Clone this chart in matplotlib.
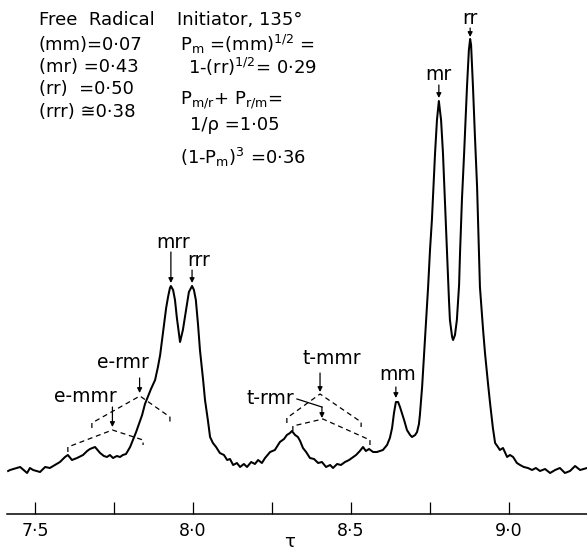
import matplotlib
matplotlib.use("Agg")
import matplotlib.pyplot as plt

# ---------------- data ----------------
tau = [7.415, 7.421, 7.453, 7.475, 7.484, 7.494, 7.516, 7.532, 7.547, 7.563,
       7.579, 7.595, 7.604, 7.617, 7.633, 7.652, 7.665, 7.674, 7.690, 7.706,
       7.718, 7.728, 7.737, 7.747, 7.759, 7.769, 7.778, 7.788, 7.801, 7.810,
       7.820, 7.829, 7.839, 7.848, 7.858, 7.867, 7.880, 7.889, 7.896, 7.905,
       7.915, 7.921, 7.927, 7.930, 7.937, 7.943, 7.949, 7.959, 7.968, 7.978,
       7.987, 7.997, 8.003, 8.009, 8.016, 8.022, 8.032, 8.038, 8.047, 8.054,
       8.063, 8.073, 8.085, 8.098, 8.108, 8.117, 8.127, 8.139, 8.149, 8.161,
       8.171, 8.184, 8.196, 8.206, 8.218, 8.228, 8.244, 8.259, 8.275, 8.288,
       8.297, 8.307, 8.313, 8.323, 8.332, 8.339, 8.348, 8.358, 8.370, 8.383,
       8.396, 8.408, 8.421, 8.434, 8.443, 8.456, 8.468, 8.481, 8.494, 8.503,
       8.516, 8.528, 8.538, 8.547, 8.557, 8.570, 8.582, 8.592, 8.601, 8.614,
       8.623, 8.630, 8.636, 8.642, 8.649, 8.655, 8.661, 8.668, 8.677, 8.687,
       8.693, 8.703, 8.709, 8.715, 8.718, 8.725, 8.731, 8.734, 8.744, 8.750,
       8.756, 8.766, 8.772, 8.778, 8.785, 8.791, 8.797, 8.804, 8.810, 8.813,
       8.820, 8.823, 8.829, 8.835, 8.842, 8.845, 8.851, 8.858, 8.867, 8.873,
       8.877, 8.880, 8.886, 8.892, 8.899, 8.908, 8.918, 8.924, 8.934, 8.940,
       8.949, 8.956, 8.965, 8.971, 8.981, 8.994, 9.003, 9.013, 9.025, 9.035,
       9.047, 9.060, 9.073, 9.085, 9.098, 9.114, 9.130, 9.146, 9.161, 9.177,
       9.193, 9.209, 9.225, 9.247]

intensity = [-1, 0, 3, -3, 2, 0, -2, 3, 2, 5,
             8, 13, 15, 10, 12, 15, 19, 21, 23, 17,
             14, 13, 15, 12, 14, 13, 15, 16, 23, 30,
             38, 46, 55, 66, 74, 81, 90, 103, 115, 137,
             162, 173, 182, 184, 180, 170, 152, 128, 140, 160,
             178, 184, 180, 170, 145, 120, 90, 70, 50, 33,
             27, 23, 17, 15, 10, 11, 5, 7, 3, 6,
             3, 8, 6, 10, 7, 12, 18, 20, 28, 31,
             35, 37, 39, 35, 33, 29, 22, 18, 12, 11,
             7, 8, 3, 5, 2, 6, 5, 8, 10, 12,
             15, 19, 23, 19, 21, 18, 18, 19, 20, 25,
             32, 42, 57, 68, 68, 63, 57, 50, 40, 35,
             33, 35, 38, 46, 55, 83, 115, 130, 183, 220,
             250, 317, 350, 369, 350, 317, 270, 217, 170, 150,
             133, 130, 135, 150, 185, 217, 270, 317, 383, 420,
             431, 425, 383, 335, 283, 183, 140, 117, 85, 67,
             42, 27, 23, 20, 22, 13, 15, 13, 7, 5,
             3, 2, 0, 2, -1, 1, -3, 0, 2, -3,
             -1, 4, 0, 2]

major_ticks = [7.5, 8.0, 8.5, 9.0]
major_tick_labels = ["7·5", "8·0", "8·5", "9·0"]
minor_ticks = [7.75, 8.25, 8.75]

# peak labels: text, arrow tau
peak_labels = ["mrr", "rrr", "mm", "mr", "rr"]
peak_tau = [7.930, 7.997, 8.642, 8.778, 8.877]

# ---------------- figure ----------------
W, H = 587, 551
fig = plt.figure(figsize=(W / 100, H / 100), dpi=100)
ax = fig.add_axes([7 / W, 37 / H, 580 / W, 514 / H])
ax.set_xlim(7.4114, 9.2468)
ax.set_ylim(-44, 470)

ax.plot(tau, intensity, color="black", lw=1.45, solid_joinstyle="round")

for s in ["top", "right", "left"]:
    ax.spines[s].set_visible(False)
ax.spines["bottom"].set_linewidth(1.1)
ax.set_yticks([])
ax.set_xticks(major_ticks)
ax.set_xticklabels(major_tick_labels, fontsize=12.5)
ax.set_xticks(minor_ticks, minor=True)
ax.tick_params(axis="x", which="both", direction="in", length=8.5, width=0.9, pad=6)
ax.set_xlabel("τ", fontsize=13)
ax.xaxis.set_label_coords(0.488, -0.036)
ax.xaxis.label.set_va("top")

FS = 13.5
arrow_kw = dict(arrowstyle="-|>", color="black", lw=0.9, mutation_scale=7,
                shrinkA=0, shrinkB=0)

def arrow(x, y0, y1):
    ax.annotate("", xy=(x, y1), xytext=(x, y0), arrowprops=arrow_kw)

# peak labels (text position offsets: dx in tau, text y, arrow from/to)
peak_layout = {
    "mrr": (0.007, 228, 218, 187),
    "rrr": (0.022, 210, 200, 187),
    "mm": (0.007, 95, 83, 72),
    "mr": (-0.003, 395, 385, 372),
    "rr": (0.0, 452, 442, 433),
}
for name, x in zip(peak_labels, peak_tau):
    dx, ty, a0, a1 = peak_layout[name]
    ax.text(x + dx, ty, name, fontsize=FS, ha="center", va="center")
    arrow(x, a0, a1)

dash = (0, (4, 3))

def bracket(lx, ly, ax_, ay, rx, ry, tick=5):
    ax.plot([lx, lx, ax_, rx, rx], [ly - tick, ly, ay, ry, ry - tick],
            color="black", lw=0.9, ls=dash)

# e-rmr
ax.text(7.778, 107, "e-rmr", fontsize=FS, ha="center", va="center")
arrow(7.831, 92, 77)
bracket(7.680, 47, 7.832, 74, 7.927, 53)
# e-mmr
ax.text(7.658, 73, "e-mmr", fontsize=FS, ha="center", va="center")
arrow(7.745, 63, 43)
bracket(7.604, 23, 7.745, 40, 7.842, 30)
# t-mmr
ax.text(8.440, 112, "t-mmr", fontsize=FS, ha="center", va="center")
arrow(8.402, 97, 78)
bracket(8.297, 52, 8.402, 76, 8.532, 48)
# t-rmr
ax.text(8.244, 72, "t-rmr", fontsize=FS, ha="center", va="center")
ax.plot([8.329, 8.408], [71, 63], color="black", lw=0.9)
arrow(8.408, 63, 52)
bracket(8.316, 44, 8.411, 51, 8.560, 30)

# top-left text block
TF = 13
def ftext(px, py, s):
    fig.text(px / W, 1 - py / H, s, fontsize=TF, ha="left", va="center")

ftext(39, 20, "Free  Radical")
ftext(177, 20, "Initiator, 135°")
ftext(39, 45, "(mm)=0·07")
ftext(39, 67, "(mr) =0·43")
ftext(39, 89, "(rr)  =0·50")
ftext(39, 112, "(rrr) ≅0·38")
ftext(180, 44, r"P$_\mathrm{m}$ =(mm)$^{1/2}$ =")
ftext(188, 67, r"1-(rr)$^{1/2}$= 0·29")
ftext(180, 100, r"P$_\mathrm{m/r}$+ P$_\mathrm{r/m}$=")
ftext(190, 125, "1/ρ =1·05")
ftext(180, 157, r"(1-P$_\mathrm{m}$)$^3$ =0·36")

fig.savefig("out.png", dpi=100)
